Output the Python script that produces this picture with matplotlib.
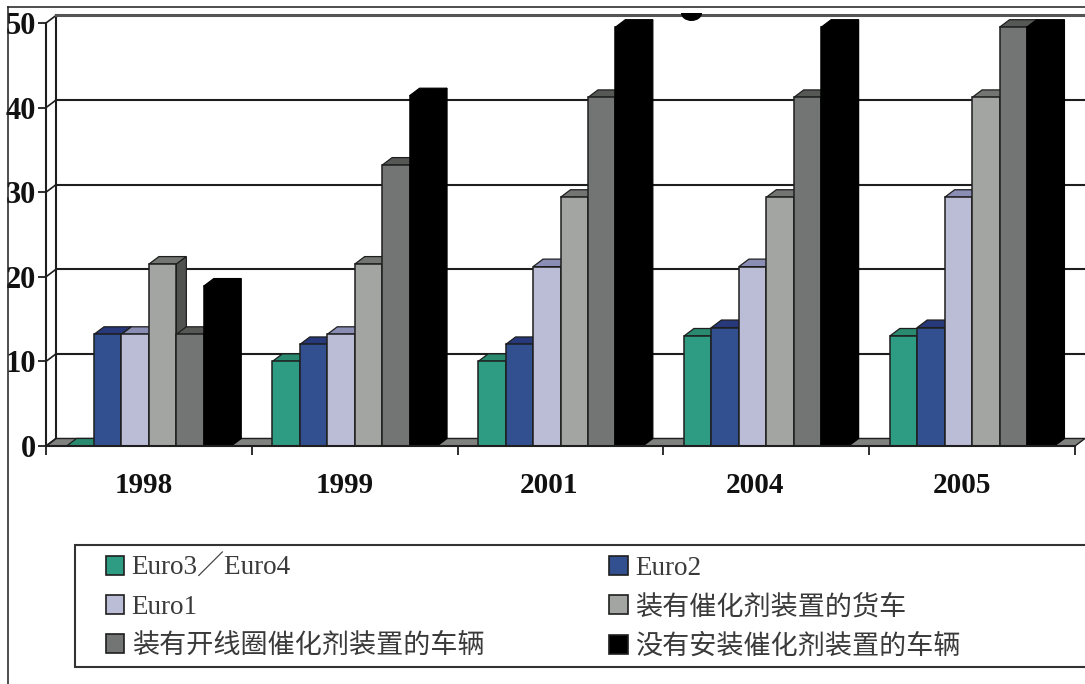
import matplotlib
matplotlib.use("Agg")
import matplotlib.pyplot as plt
from matplotlib.lines import Line2D
from matplotlib.patches import Ellipse, Patch, Rectangle

years = ["1998", "1999", "2001", "2004", "2005"]
series_names = ["Euro3／Euro4", "Euro2", "Euro1", "装有催化剂装置的货车",
                "装有开线圈催化剂装置的车辆", "没有安装催化剂装置的车辆"]
euro3 = [0, 10, 10, 13, 13]
euro2 = [13.2, 12, 12, 14, 14]
euro1 = [13.2, 13.2, 21.2, 21.2, 29.4]
truck = [21.5, 21.5, 29.4, 29.4, 41.2]
open_loop = [13.2, 33.2, 41.2, 41.2, 49.5]
no_catalyst = [18.9, 41.4, 49.5, 49.5, 49.5]
values = [euro3, euro2, euro1, truck, open_loop, no_catalyst]

front_colors = ["#2E9C82", "#32508F", "#BBBDD6", "#A3A5A3", "#727573", "#000000"]
top_colors = ["#2A8A70", "#27397A", "#8A8EB5", "#737573", "#565856", "#000000"]
side_colors = ["#1F6E59", "#1F2F66", "#7F82A6", "#50524F", "#444644", "#000000"]
y_ticks = [0, 10, 20, 30, 40, 50]
year_label_positions = [0.475, 1.45, 2.445, 3.445, 4.45]

W, H = 1085, 684
DARK = "#1E1E1E"
SERIF = ["Liberation Serif", "Noto Sans CJK SC"]

# Depth of the pseudo-3D box, in category units and value units
DX, DY = 0.0486, 0.89
BAR_W = 0.8 / 6

fig = plt.figure(figsize=(W / 100, H / 100), dpi=100, facecolor="white")
ax = fig.add_axes([46 / W, 1 - 446 / H, (1075 - 46) / W, (446 - 23) / H])
ax.set_xlim(0, 5)
ax.set_ylim(0, 50)
ax.patch.set_visible(False)

# Floor, back wall and gridlines
ax.fill([0, DX, 5 + DX, 5], [0, DY, DY, 0], facecolor="#808280",
        edgecolor=DARK, lw=1, clip_on=False, zorder=1)
ax.plot([DX, DX], [DY, 50 + DY], color=DARK, lw=1.5, clip_on=False, zorder=1)
for t in y_ticks:
    ax.plot([0, DX], [t, t + DY], color=DARK, lw=1.2, clip_on=False, zorder=1)
    if t > 0:
        ax.plot([DX, 5 + DX + 0.05], [t + DY, t + DY],
                color="#555555" if t == 50 else DARK,
                lw=2.2 if t == 50 else 1.5, clip_on=False, zorder=1)

# Bars: drawn left to right so that each front face hides its neighbour's side
z = 2.0
for i in range(len(years)):
    for s, series in enumerate(values):
        v = series[i]
        x0 = i + 0.1 + s * BAR_W
        x1 = x0 + BAR_W
        edge = "#000000" if front_colors[s] == "#000000" else DARK
        ax.fill([x0, x0 + DX, x1 + DX, x1], [v, v + DY, v + DY, v],
                facecolor=top_colors[s], edgecolor=edge, lw=0.9,
                clip_on=False, zorder=z)
        ax.fill([x1, x1 + DX, x1 + DX, x1], [0, DY, v + DY, v],
                facecolor=side_colors[s], edgecolor=edge, lw=0.9,
                clip_on=False, zorder=z)
        ax.bar(x0, v, BAR_W, align="edge", color=front_colors[s],
               edgecolor=edge, linewidth=1.1, clip_on=False, zorder=z + 0.1)
        z += 0.2

# Axes
for side in ("top", "right"):
    ax.spines[side].set_visible(False)
for side in ("left", "bottom"):
    ax.spines[side].set_linewidth(1.5)
    ax.spines[side].set_color(DARK)
    ax.spines[side].set_zorder(100)

ax.set_yticks(y_ticks)
ax.set_yticklabels([str(t) for t in y_ticks], fontfamily="Liberation Serif",
                   fontweight="bold", fontsize=22, color="#111111")
ax.tick_params(axis="y", length=5.5, width=1.3, color=DARK, pad=2)
ax.set_xticks(range(len(years) + 1))
ax.set_xticklabels([])
ax.tick_params(axis="x", which="major", length=6.5, width=1.3, color=DARK)
ax.set_xticks(year_label_positions, minor=True)
ax.set_xticklabels(years, minor=True, fontfamily="Liberation Serif",
                   fontweight="bold", fontsize=21, color="#111111")
ax.tick_params(axis="x", which="minor", length=0, pad=18.6)

# Outer rules along the top and left of the figure
fig.add_artist(Line2D([7.5 / W, 7.5 / W], [1 - 6.5 / H, 0], color=DARK, lw=1.1))
fig.add_artist(Line2D([7.5 / W, 1], [1 - 6.5 / H, 1 - 6.5 / H], color=DARK, lw=1.1))

# Small dark spot below the top rule
spot = Ellipse((691.5, H - 13), 21, 16, transform=None, facecolor="black",
               edgecolor="none", zorder=50)
fig.add_artist(spot)
spot.set_clip_path(Rectangle((670, H - 30), 45, 17, transform=None))

# Legend box runs off the right edge of the figure
fig.add_artist(Rectangle((75 / W, 1 - 667 / H), 1066 / W, 122 / H,
                         transform=fig.transFigure, facecolor="white",
                         edgecolor="#333333", linewidth=1.5))

# Entries are filled column by column so that they read across in rows
order = [0, 2, 4, 1, 3, 5]
handles = [Patch(facecolor=front_colors[s], edgecolor=DARK, linewidth=1.2) for s in order]
labels = [series_names[s] for s in order]
legend = fig.legend(handles, labels, ncol=2, loc="upper left",
                    bbox_to_anchor=(106 / W, 1 - 555.5 / H),
                    bbox_transform=fig.transFigure, frameon=False,
                    borderaxespad=0, borderpad=0,
                    handlelength=0.67, handleheight=0.7, handletextpad=0.28,
                    labelspacing=0.52, columnspacing=4.62,
                    prop={"family": SERIF, "size": 19.5}, labelcolor="#3A3A3A")

fig.savefig("out.png", dpi=100, facecolor="white")
